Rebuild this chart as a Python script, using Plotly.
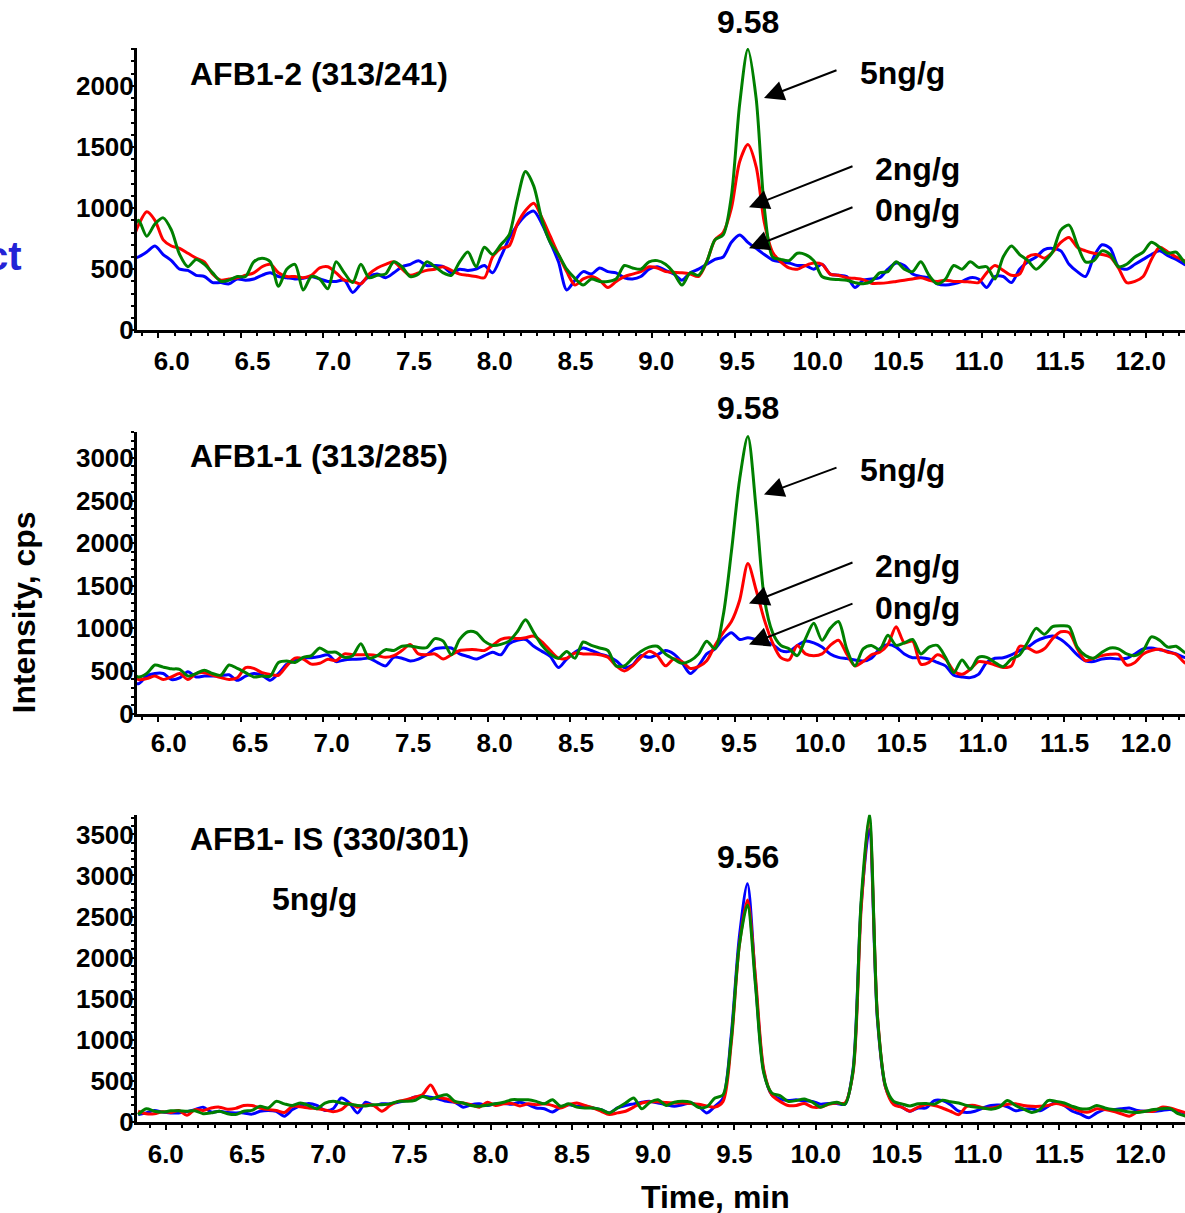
import plotly.graph_objects as go

W, H = 1185, 1213          # reference picture size (pixel coordinates below refer to it)
FIG_H = 1229               # page height that the capture is scaled from

# retention time grid (min)
time_min = [5.83, 5.88, 5.93, 5.98, 6.03, 6.08, 6.13, 6.18, 6.23, 6.28,
            6.33, 6.38, 6.43, 6.48, 6.53, 6.58, 6.63, 6.68, 6.73, 6.78,
            6.83, 6.88, 6.93, 6.98, 7.03, 7.08, 7.13, 7.18, 7.23, 7.28,
            7.33, 7.38, 7.43, 7.48, 7.53, 7.58, 7.63, 7.68, 7.73, 7.78,
            7.83, 7.88, 7.93, 7.98, 8.03, 8.08, 8.13, 8.18, 8.23, 8.28,
            8.33, 8.38, 8.43, 8.48, 8.53, 8.58,
            8.63, 8.68, 8.73, 8.78, 8.83, 8.88, 8.93, 8.98, 9.03, 9.08,
            9.13, 9.18, 9.23, 9.28, 9.33, 9.38, 9.43, 9.48, 9.53, 9.58,
            9.63, 9.68, 9.73, 9.78, 9.83, 9.88, 9.93, 9.98, 10.03, 10.08,
            10.13, 10.18, 10.23, 10.28, 10.33, 10.38, 10.43, 10.48, 10.53, 10.58,
            10.63, 10.68, 10.73, 10.78, 10.83, 10.88, 10.93, 10.98, 11.03, 11.08,
            11.13, 11.18, 11.23, 11.28, 11.33, 11.38, 11.43, 11.48, 11.53, 11.58,
            11.63, 11.68, 11.73, 11.78, 11.83, 11.88, 11.93, 11.98, 12.03, 12.08,
            12.13, 12.18, 12.23, 12.28]

# ---- Panel 1: AFB1-2 (313/241) ----
p1_blank = [580, 600, 640, 690, 620, 570, 500, 490, 450, 440,
            390, 390, 380, 420, 410, 420, 450, 470, 440, 430,
            420, 425, 440, 420, 400, 400, 410, 310, 380, 440,
            460, 430, 470, 520, 540, 570, 530, 530, 520, 470,
            500, 490, 500, 530, 470, 600, 750, 860, 940, 975,
            870, 720, 560, 330, 410, 480,
            460, 510, 480, 470, 430, 420, 440, 500, 520, 490,
            460, 410, 470, 500, 540, 580, 600, 720, 780, 720,
            670, 620, 575, 560, 550, 530, 530, 500, 540, 460,
            450, 440, 350, 410, 420, 430, 500, 550, 530, 460,
            440, 430, 380, 370, 380, 400, 430, 420, 350, 440,
            440, 390, 500, 560, 600, 660, 670, 650, 540, 480,
            440, 600, 700, 670, 520, 500, 540, 580, 620, 650,
            610, 580, 540, 520]
p1_2ng = [690, 860, 970, 900, 740, 690, 670, 630, 590, 560,
          460, 410, 420, 430, 450, 470, 520, 540, 470, 440,
          440, 430, 450, 510, 520, 470, 410, 400, 380, 460,
          510, 540, 560, 500, 450, 470, 490, 500, 520, 490,
          460, 450, 440, 430, 600, 670, 690, 870, 980, 1040,
          920, 770, 620, 480, 370, 420,
          440, 410, 350, 400, 440, 460, 480, 520, 510, 480,
          475, 470, 460, 440, 560, 740, 800, 1000, 1380, 1520,
          1340, 880, 640, 560, 510, 500, 530, 550, 540, 460,
          450, 430, 425, 415, 385, 385, 390, 400, 410, 420,
          430, 410, 400, 410, 400, 400, 395, 390, 470, 530,
          490, 450, 460, 600, 620, 590, 640, 720, 760, 680,
          650, 630, 620, 600, 510, 390, 400, 440, 580, 680,
          640, 600, 570, 540]
p1_5ng = [730, 900, 770, 870, 920, 820, 620, 520, 580, 540,
          470, 400, 410, 440, 440, 560, 590, 560, 360, 500,
          540, 330, 440, 420, 340, 560, 470, 390, 540, 430,
          450, 460, 560, 520, 440, 460, 560, 520, 470, 450,
          560, 640, 520, 680, 620, 700, 780, 1070, 1300, 1180,
          900, 720, 620, 500, 425, 370,
          420, 400, 400, 420, 530, 510, 500, 560, 570, 540,
          470, 370, 470, 450, 560, 740, 780, 1100, 1850, 2300,
          1900, 1000, 600, 580, 570, 630, 620, 570, 440, 420,
          415, 410, 390, 380, 400, 470, 480, 560, 500, 480,
          560, 450, 380, 420, 530, 500, 560, 515, 520, 420,
          600, 690, 620, 570, 500, 560, 640, 820, 860, 700,
          560, 570, 650, 620, 520, 540, 600, 640, 720, 680,
          630, 640, 560, 520]

# ---- Panel 2: AFB1-1 (313/285) ----
p2_blank = [390, 350, 440, 470, 470, 400, 420, 490, 430, 440,
            441, 445, 455, 390, 440, 470, 450, 390, 470, 580,
            620, 650, 656, 670, 690, 610, 630, 637, 640, 650,
            600, 560, 660, 650, 617, 640, 690, 760, 773, 770,
            700, 670, 640, 680, 720, 690, 820, 860, 870, 790,
            730, 670, 540, 640, 720, 770,
            740, 700, 670, 620, 540, 570, 680, 660, 690, 740,
            700, 600, 470, 560, 700, 760, 880, 950, 870, 890,
            870, 850, 810, 740, 730, 800, 850, 830, 780, 700,
            660, 645, 630, 617, 650, 760, 810, 780, 700, 656,
            656, 640, 600, 560, 450, 430, 422, 460, 600, 650,
            656, 690, 740, 780, 850, 890, 910, 870, 790, 690,
            620, 610, 640, 650, 640, 650, 700, 760, 770, 750,
            730, 700, 660, 650]
p2_2ng = [470, 400, 410, 440, 400, 430, 470, 400, 470, 480,
          450, 422, 400, 420, 539, 530, 480, 460, 450, 560,
          650, 640, 580, 590, 637, 620, 700, 690, 690, 690,
          680, 660, 680, 740, 810, 700, 690, 700, 640, 690,
          740, 750, 750, 740, 800, 870, 890, 880, 890, 910,
          840, 740, 650, 650, 710, 700,
          700, 690, 660, 560, 500, 560, 660, 730, 680, 560,
          640, 610, 530, 550, 620, 800, 950, 1080, 1330, 1760,
          1450, 1100, 830, 656, 630, 800, 700, 680, 700, 800,
          860, 700, 560, 610, 690, 720, 810, 1020, 830, 850,
          580, 600, 690, 640, 500, 461, 520, 610, 600, 570,
          540, 560, 790, 770, 720, 760, 880, 960, 950, 760,
          620, 650, 680, 695, 695, 570, 600, 700, 740, 754,
          720, 695, 600, 560]
p2_5ng = [500, 430, 470, 570, 545, 525, 520, 440, 470, 510,
          470, 450, 570, 530, 480, 430, 440, 440, 600, 617,
          600, 660, 680, 770, 720, 720, 660, 680, 820, 650,
          680, 750, 740, 790, 793, 775, 773, 880, 850, 690,
          870, 960, 950, 850, 800, 812, 850, 960, 1100, 950,
          800, 700, 650, 730, 650, 840,
          800, 770, 740, 560, 560, 650, 730, 780, 790, 700,
          640, 590, 620, 700, 850, 760, 1150, 1900, 2750, 3250,
          2400, 1350, 950, 800, 760, 680, 880, 1060, 860, 1000,
          1080, 760, 560, 760, 800, 750, 920, 800, 830, 870,
          700, 780, 800, 660, 480, 630, 520, 660, 660, 600,
          550, 640, 690, 840, 1000, 930, 1020, 1030, 1020, 780,
          680, 650, 720, 770, 760, 700, 680, 740, 900, 860,
          780, 790, 720, 680]

# ---- Panel 3: AFB1- IS (330/301) ----
p3_blank = [90, 110, 140, 120, 110, 110, 125, 150, 180, 120,
            130, 115, 110, 110, 95, 130, 140, 130, 70, 150,
            200, 225, 200, 140, 160, 291, 231, 110, 240, 200,
            220, 220, 240, 260, 300, 312, 300, 280, 250, 240,
            180, 210, 220, 200, 220, 225, 215, 240, 210, 170,
            160, 120, 180, 210, 190, 190,
            170, 150, 110, 170, 200, 220, 240, 250, 230, 210,
            190, 210, 230, 190, 110, 190, 290, 1050, 2250, 2900,
            1700, 620, 330, 280, 260, 270, 255, 250, 215, 225,
            225, 215, 640, 2650, 3560, 1250, 420, 231, 180, 130,
            170, 170, 260, 260, 210, 130, 115, 130, 170, 200,
            205, 185, 135, 155, 160, 135, 190, 240, 200, 130,
            95, 50, 110, 150, 150, 160, 170, 140, 130, 130,
            140, 150, 125, 105]
p3_2ng = [130, 100, 100, 125, 115, 140, 80, 150, 140, 170,
          180, 155, 165, 200, 200, 170, 150, 140, 115, 190,
          185, 170, 160, 145, 125, 150, 225, 180, 210, 200,
          130, 200, 250, 270, 300, 332, 450, 300, 280, 240,
          231, 210, 180, 240, 200, 220, 225, 195, 220, 210,
          220, 200, 170, 210, 230, 200,
          170, 130, 90, 110, 130, 180, 231, 245, 245, 235,
          231, 231, 225, 215, 195, 180, 250, 950, 2150, 2700,
          1750, 640, 330, 250, 200, 200, 225, 180, 180, 215,
          231, 231, 600, 2600, 3660, 1300, 420, 210, 180, 130,
          180, 210, 200, 170, 130, 89, 190, 200, 170, 170,
          190, 215, 220, 200, 190, 190, 200, 225, 200, 170,
          130, 120, 160, 150, 130, 100, 70, 120, 130, 130,
          180, 170, 140, 110]
p3_5ng = [90, 160, 130, 120, 135, 135, 130, 135, 100, 110,
          130, 100, 90, 130, 140, 190, 170, 250, 220, 200,
          231, 200, 160, 230, 251, 231, 215, 200, 195, 210,
          210, 220, 250, 251, 260, 310, 280, 310, 330, 250,
          231, 200, 190, 205, 220, 240, 270, 270, 270, 250,
          220, 271, 190, 220, 180, 170,
          170, 150, 109, 170, 230, 291, 160, 240, 270, 200,
          240, 251, 240, 175, 185, 291, 330, 1000, 2150, 2640,
          1650, 600, 352, 320, 250, 260, 280, 240, 180, 220,
          240, 215, 620, 2700, 3740, 1280, 440, 250, 220, 195,
          220, 225, 215, 265, 245, 231, 200, 180, 170, 155,
          180, 260, 200, 155, 115, 150, 260, 250, 230, 190,
          160, 160, 200, 170, 150, 140, 120, 115, 130, 150,
          160, 165, 100, 70]

x_tickvals = [6.0, 6.5, 7.0, 7.5, 8.0, 8.5, 9.0, 9.5, 10.0, 10.5, 11.0, 11.5, 12.0]
x_ticktext = ["6.0", "6.5", "7.0", "7.5", "8.0", "8.5", "9.0", "9.5", "10.0", "10.5", "11.0", "11.5", "12.0"]
y1_ticks = [0, 500, 1000, 1500, 2000]
y2_ticks = [0, 500, 1000, 1500, 2000, 2500, 3000]
y3_ticks = [0, 500, 1000, 1500, 2000, 2500, 3000, 3500]

colors = {"blank": "#0000ff", "2ng": "#ff0000", "5ng": "#008000"}
FONT = "Liberation Sans, Arial, sans-serif"

fig = go.Figure()
panels = [
    ("x", "y", "x4", p1_blank, p1_2ng, p1_5ng),
    ("x2", "y2", "x5", p2_blank, p2_2ng, p2_5ng),
    ("x3", "y3", None, p3_blank, p3_2ng, p3_5ng),
]
for xa, ya, xlab, b, r, g in panels:
    for vals, c in ((b, colors["blank"]), (r, colors["2ng"]), (g, colors["5ng"])):
        fig.add_trace(go.Scatter(x=time_min, y=vals, xaxis=xa, yaxis=ya, mode="lines",
                                 line=dict(color=c, width=3, shape="spline", smoothing=0.8),
                                 showlegend=False, hoverinfo="skip"))
    if xlab:
        # transparent copy so the separate tick-label row axis gets drawn
        fig.add_trace(go.Scatter(x=time_min, y=b, xaxis=xlab, yaxis=ya, mode="lines",
                                 line=dict(color="rgba(0,0,0,0)", width=1), opacity=0,
                                 showlegend=False, hoverinfo="skip"))


def fx(X):
    return X / W


def fy(Y):
    return 1 - Y / H


DOMX = [fx(137), 1]


def xaxis(rng, yanchor, show_labels=False, standoff=8):
    return dict(range=rng, domain=DOMX, anchor=yanchor, showline=True, linecolor="black",
                linewidth=3, ticks="outside", ticklen=5, tickwidth=2, tickcolor="black",
                tickvals=x_tickvals, ticktext=x_ticktext, showticklabels=show_labels,
                showgrid=False, zeroline=False,
                tickfont=dict(family=FONT, size=26, color="black", weight="bold"),
                ticklabelstandoff=standoff,
                minor=dict(ticks="outside", ticklen=3, tickwidth=1.5, tickcolor="black", dtick=0.1, tick0=6.0))


def xlabels(rng, over, yanchor, standoff):
    # tick-label row printed slightly out of register with the tick marks, as in the source
    return dict(range=rng, domain=DOMX, anchor=yanchor, overlaying=over, showline=False,
                ticks="", tickvals=x_tickvals, ticktext=x_ticktext, showgrid=False, zeroline=False,
                tickfont=dict(family=FONT, size=26, color="black", weight="bold"),
                ticklabelstandoff=standoff, fixedrange=True)


def yaxis(rng, dom, xanchor, tv):
    return dict(range=rng, domain=dom, anchor=xanchor, showline=True, linecolor="black",
                linewidth=3, ticks="outside", ticklen=4, tickwidth=2, tickcolor="black",
                tickvals=tv, showgrid=False, zeroline=False,
                tickfont=dict(family=FONT, size=26, color="black", weight="bold"),
                ticklabelstandoff=-9,
                minor=dict(ticks="outside", ticklen=3, tickwidth=1.5, tickcolor="black", dtick=100, tick0=0))


fig.update_layout(
    width=W, height=FIG_H, margin=dict(l=0, r=0, t=0, b=0),
    paper_bgcolor="white", plot_bgcolor="white", showlegend=False,
    xaxis=xaxis([5.871, 12.234], "y"),
    yaxis=yaxis([0, 2310], [fy(330), fy(48)], "x", y1_ticks),
    xaxis2=xaxis([5.871, 12.234], "y2"),
    yaxis2=yaxis([0, 3300], [fy(713), fy(432)], "x2", y2_ticks),
    xaxis3=xaxis([5.823, 12.273], "y3", show_labels=True, standoff=2),
    yaxis3=yaxis([0, 3740], [fy(1121), fy(814)], "x3", y3_ticks),
    xaxis4=xlabels([5.785, 12.274], "x", "y", 13),
    xaxis5=xlabels([5.805, 12.239], "x2", "y2", 11),
)

ann = []
SY = FIG_H / H


def text(t, x, y, anchor="left", size=32, color="black", angle=0):
    ann.append(dict(text=t, x=fx(x), y=fy(y), xref="paper", yref="paper", xanchor=anchor,
                    yanchor="middle", showarrow=False, textangle=angle,
                    font=dict(family=FONT, size=size, color=color, weight="bold")))


def arrow(tip, tail):
    ann.append(dict(text="", x=fx(tip[0]), y=fy(tip[1]), xref="paper", yref="paper",
                    ax=tail[0] - tip[0], ay=(tail[1] - tip[1]) * SY, showarrow=True,
                    arrowhead=2, arrowsize=2.0, arrowwidth=2, arrowcolor="black", standoff=0))


# panel 1
text("AFB1-2 (313/241)", 188, 74)
text("9.58", 748, 22, anchor="center")
text("5ng/g", 858, 73)
text("2ng/g", 873, 169)
text("0ng/g", 873, 210)
arrow((764, 98), (838, 70))
arrow((749, 207), (854, 166))
arrow((749, 248), (854, 207))
# panel 2
text("AFB1-1 (313/285)", 188, 456)
text("9.58", 748, 408, anchor="center")
text("5ng/g", 858, 470)
text("2ng/g", 873, 566)
text("0ng/g", 873, 607)
arrow((764, 494), (838, 467))
arrow((749, 603), (854, 562))
arrow((749, 644), (854, 603))
# panel 3
text("AFB1- IS (330/301)", 188, 838)
text("5ng/g", 270, 898)
text("9.56", 748, 856, anchor="center")
# axis titles and clipped side label
text("Intensity, cps", 24, 612, anchor="center", size=32, angle=-90)
text("Time, min", 715, 1196, anchor="center", size=32)
text("ct", 24, 256, anchor="right", size=40, color="#2323d6")

fig.update_layout(annotations=ann)
fig.write_html(
    "out.html",
    config={"displayModeBar": False},
    post_script=("var s='margin:0;padding:0;overflow:hidden;';"
                 "document.documentElement.style.cssText+=s;"
                 "document.body.style.cssText+=s;"),
)
